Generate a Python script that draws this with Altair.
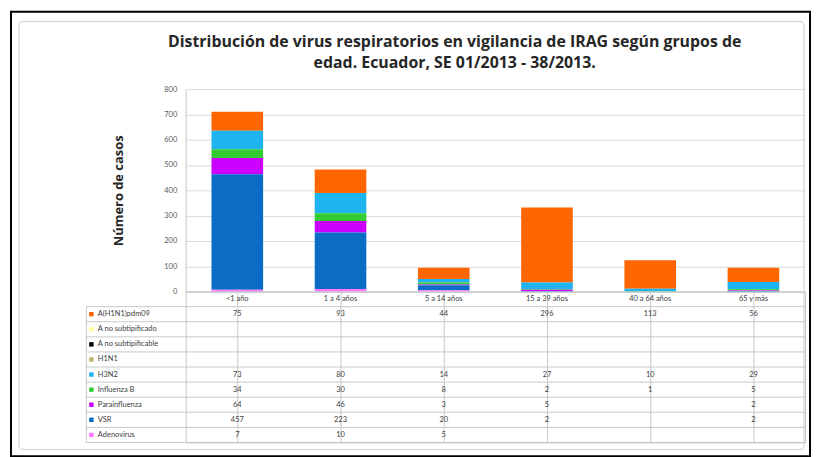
import altair as alt
import pandas as pd

# ---------------- data ----------------
categories = ["<1 año", "1 a 4 años", "5 a 14 años", "15 a 39 años", "40 a 64 años", "65 y más"]
series_table_order = ["A(H1N1)pdm09", "A no subtipificado", "A no subtipificable", "H1N1",
                      "H3N2", "Influenza B", "Parainfluenza", "VSR", "Adenovirus"]
series_colors = ["#FF6600", "#FFFF99", "#000000", "#BDB76B",
                 "#1EB4F0", "#33CC33", "#CC00FF", "#0A6CC4", "#FF77FF"]

h1n1pdm09 = [75, 93, 44, 296, 113, 56]
a_no_subtipificado = [None, None, None, None, None, None]
a_no_subtipificable = [None, None, None, None, None, None]
h1n1 = [None, None, None, None, None, None]
h3n2 = [73, 80, 14, 27, 10, 29]
influenza_b = [34, 30, 8, 2, 1, 5]
parainfluenza = [64, 46, 3, 5, None, 2]
vsr = [457, 223, 20, 2, None, 2]
adenovirus = [7, 10, 5, None, None, None]

series_values = [h1n1pdm09, a_no_subtipificado, a_no_subtipificable, h1n1,
                 h3n2, influenza_b, parainfluenza, vsr, adenovirus]

y_ticks = [0, 100, 200, 300, 400, 500, 600, 700, 800]
title_lines = ["Distribución de virus respiratorios en vigilancia de IRAG según grupos de",
               "edad. Ecuador, SE 01/2013 -  38/2013."]
y_title = "Número de casos"

# ---------------- tables ----------------
n_series = len(series_table_order)
bar_rows, text_rows = [], []
for i, (name, vals) in enumerate(zip(series_table_order, series_values)):
    for c, v in zip(categories, vals):
        if v is not None:
            bar_rows.append({"cat": c, "serie": name, "value": v, "idx": n_series - i})
            text_rows.append({"cat": c, "serie": name, "label": str(v)})
HEAD = " "
for c in categories:
    text_rows.append({"cat": c, "serie": HEAD, "label": c})

df_bars = pd.DataFrame(bar_rows)
df_text = pd.DataFrame(text_rows)
table_rows = [HEAD] + series_table_order
df_rows = pd.DataFrame({"serie": table_rows})
df_keys = pd.DataFrame({"serie": series_table_order})

# ---------------- layout ----------------
W, H = 624, 204
RH = 15.2
HT = RH * len(table_rows)
FONT = "Lato"
TFONT = "Open Sans"
GRID = "#c8c8c8"
TXT = "#404040"

xscale = alt.Scale(domain=categories, paddingInner=0, paddingOuter=0)
yscale_t = alt.Scale(domain=table_rows, paddingInner=0, paddingOuter=0)
cscale = alt.Scale(domain=series_table_order, range=series_colors)

bars = alt.Chart(df_bars).mark_bar(width={"band": 0.5}).encode(
    x=alt.X("cat:N", scale=xscale,
            axis=alt.Axis(labels=False, ticks=False, title=None, grid=False, domainColor=GRID)),
    y=alt.Y("value:Q", stack="zero", scale=alt.Scale(domain=[0, 800], nice=False),
            axis=alt.Axis(values=y_ticks, title=y_title, titleFont=TFONT, titleFontSize=13,
                          titleFontWeight="bold", titleColor="#262626", titlePadding=39,
                          labelFont=FONT, labelFontSize=7.5, labelColor="#595959",
                          labelPadding=9, ticks=False, domainColor=GRID,
                          gridColor="#d9d9d9")),
    color=alt.Color("serie:N", scale=cscale, legend=None),
    order=alt.Order("idx:Q", sort="ascending"),
).properties(
    width=W, height=H,
    view=alt.ViewBackground(stroke="transparent"),
    title=alt.TitleParams(text=title_lines, font=TFONT, fontSize=16, fontWeight="bold",
                          color="#262626", anchor="middle", offset=14, lineHeight=21, dx=-41),
)

one = alt.Data(values=[{}])

frame = alt.Chart(one).mark_rect(fillOpacity=0, stroke="black", strokeWidth=2).encode(
    x=alt.value(-176), x2=alt.value(W + 5), y=alt.value(-282), y2=alt.value(HT + 14))
inner = alt.Chart(one).mark_rect(fillOpacity=0, stroke="#dcdcdc", strokeWidth=1.5,
                                 cornerRadius=4).encode(
    x=alt.value(-168), x2=alt.value(W - 1), y=alt.value(-272), y2=alt.value(HT + 7))

name_axis = alt.Axis(title=None, ticks=False, domain=False, grid=False,
                     labelAlign="left", labelPadding=89, labelFont=FONT,
                     labelFontSize=7.5, labelColor=TXT)

texts = alt.Chart(df_text).mark_text(font=FONT, fontSize=7.5, color=TXT).encode(
    x=alt.X("cat:N", scale=xscale,
            axis=alt.Axis(labels=False, ticks=False, domain=False, title=None, grid=True,
                          bandPosition=0, gridColor=GRID)),
    y=alt.Y("serie:N", scale=yscale_t, axis=name_axis),
    text="label:N",
)

hlines = alt.Chart(df_rows).mark_rule(color=GRID, strokeWidth=1).encode(
    y=alt.Y("serie:N", scale=yscale_t, bandPosition=1, axis=name_axis),
    x=alt.value(-100), x2=alt.value(W),
)
vline = alt.Chart(one).mark_rule(color=GRID, strokeWidth=1).encode(
    x=alt.value(-100), y=alt.value(RH), y2=alt.value(HT))

keys = alt.Chart(df_keys).mark_square(size=20, opacity=1).encode(
    y=alt.Y("serie:N", scale=yscale_t, axis=name_axis),
    x=alt.value(-95),
    color=alt.Color("serie:N", scale=cscale, legend=None),
)

table = alt.layer(frame, inner, hlines, vline, texts, keys).properties(
    width=W, height=HT, view=alt.ViewBackground(stroke=GRID))

chart = alt.vconcat(bars, table, spacing=0, bounds="flush").properties(
    padding={"left": 1, "top": 0, "right": 1, "bottom": 1},
    background="white",
)

chart.save("out.html", embed_options={"renderer": "svg", "actions": False})
